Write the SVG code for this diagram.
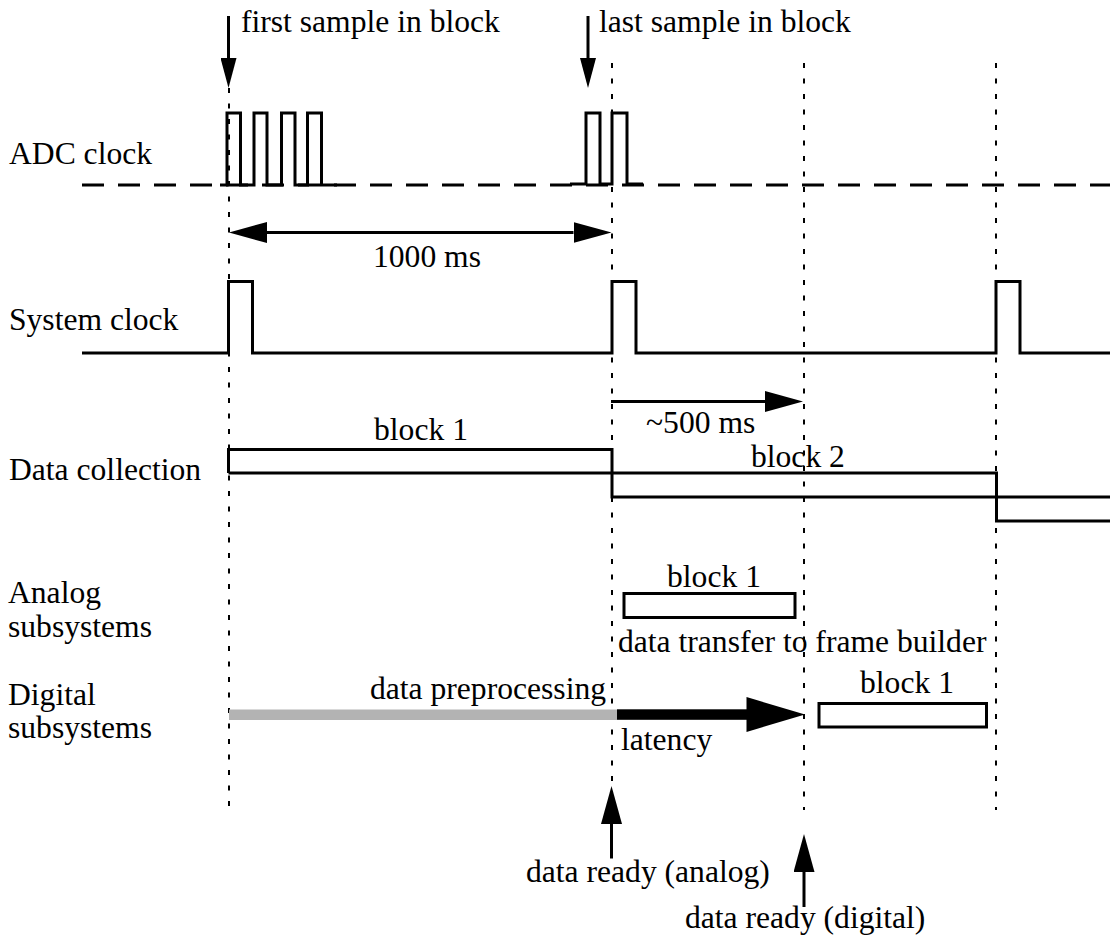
<svg xmlns="http://www.w3.org/2000/svg" width="1110" height="945" viewBox="0 0 1110 945">
<style>
  text { font-family: "Liberation Serif", "Times New Roman", serif; font-size: 31.6px; fill: #000; }
  .sig { fill: none; stroke: #000; stroke-width: 3; stroke-linejoin: miter; }
  .adcdash { fill: none; stroke: #000; stroke-width: 3; stroke-dasharray: 22 14; }
  .grid { fill: none; stroke: #000; stroke-width: 2; stroke-dasharray: 5 10.5; }
  .box { fill: #fff; stroke: #000; stroke-width: 3; }
  .shaft { fill: none; stroke: #000; stroke-width: 3; }
  .head { fill: #000; stroke: none; }
</style>
<defs>
  <marker id="ahS" markerUnits="userSpaceOnUse" markerWidth="30" markerHeight="16" refX="0" refY="8" orient="auto">
    <path d="M0,0 L30,8 L0,16 z" fill="#000"/>
  </marker>
  <marker id="ahM" markerUnits="userSpaceOnUse" markerWidth="38" markerHeight="21" refX="0" refY="10.5" orient="auto-start-reverse">
    <path d="M0,0 L38,10.5 L0,21 z" fill="#000"/>
  </marker>
</defs>

<g id="grid-lines">
  <line class="grid" x1="229" y1="88" x2="229" y2="810"/>
  <line class="grid" x1="612" y1="63" x2="612" y2="810"/>
  <line class="grid" x1="804" y1="63" x2="804" y2="810"/>
  <line class="grid" x1="996" y1="63" x2="996" y2="810"/>
</g>

<g id="adc-clock">
  <text x="9" y="164">ADC clock</text>
  <line class="adcdash" x1="82" y1="185" x2="1110" y2="185"/>
  <path class="sig" d="M220,185 H227 V113 H240.5 V185 H254 V113 H267 V185 H281.5 V113 H295 V185 H307.5 V113 H321.5 V185 H337"/>
  <path class="sig" d="M570,184 H586 V113 H600 V184 H612 V113 H627 V184 H643"/>
</g>

<g id="system-clock">
  <text x="9" y="330">System clock</text>
  <path class="sig" d="M82,353 H228.5 V281.5 H252.5 V353 H612 V281.5 H636 V353 H996 V281.5 H1020 V353 H1110"/>
</g>

<g id="data-collection">
  <text x="9" y="480">Data collection</text>
  <path class="sig" d="M228.5,473 V449.5 H612 V497 H1110"/>
  <path class="sig" d="M228.5,473 H996.5 V521 H1110"/>
  <text x="421" y="440" text-anchor="middle">block 1</text>
  <text x="751" y="467">block 2</text>
</g>

<g id="analog-subsystems">
  <text x="8" y="603">Analog</text>
  <text x="8" y="637">subsystems</text>
  <rect class="box" x="624" y="593.5" width="171" height="24"/>
  <text x="714" y="587" text-anchor="middle">block 1</text>
  <text x="618" y="652">data transfer to frame builder</text>
</g>

<g id="digital-subsystems">
  <text x="8" y="705">Digital</text>
  <text x="8" y="738">subsystems</text>
  <rect x="229" y="709.5" width="388" height="10.5" fill="#b3b3b3"/>
  <text x="606" y="699" text-anchor="end">data preprocessing</text>
  <rect class="box" x="819" y="703.5" width="167.5" height="23.5"/>
  <text x="907" y="693" text-anchor="middle">block 1</text>
  <text x="621" y="750">latency</text>
</g>

<g id="connectors">
  <!-- first / last sample arrows -->
  <line class="shaft" x1="228.5" y1="16" x2="228.5" y2="58" marker-end="url(#ahS)"/>
  <line class="shaft" x1="588" y1="16" x2="588" y2="58" marker-end="url(#ahS)"/>
  <!-- 1000 ms -->
  <line class="shaft" x1="267" y1="232.5" x2="573.5" y2="232.5" marker-start="url(#ahM)" marker-end="url(#ahM)"/>
  <!-- ~500 ms -->
  <line class="shaft" x1="611" y1="401.5" x2="765" y2="401.5" marker-end="url(#ahM)"/>
  <!-- latency -->
  <rect x="617" y="709.3" width="131" height="10.5" fill="#000"/>
  <path class="head" d="M746.5,697 L805,714.5 L746.5,732 z"/>
  <!-- data ready arrows -->
  <line class="shaft" x1="611.5" y1="858.5" x2="611.5" y2="824" marker-end="url(#ahM)"/>
  <line class="shaft" x1="804" y1="907" x2="804" y2="872" marker-end="url(#ahM)"/>
</g>

<g id="labels">
  <text x="241" y="32">first sample in block</text>
  <text x="599" y="32">last sample in block</text>
  <text x="427" y="267" text-anchor="middle">1000 ms</text>
  <text x="646" y="433">~500 ms</text>
  <text x="526" y="882">data ready (analog)</text>
  <text x="685" y="928">data ready (digital)</text>
</g>
</svg>
